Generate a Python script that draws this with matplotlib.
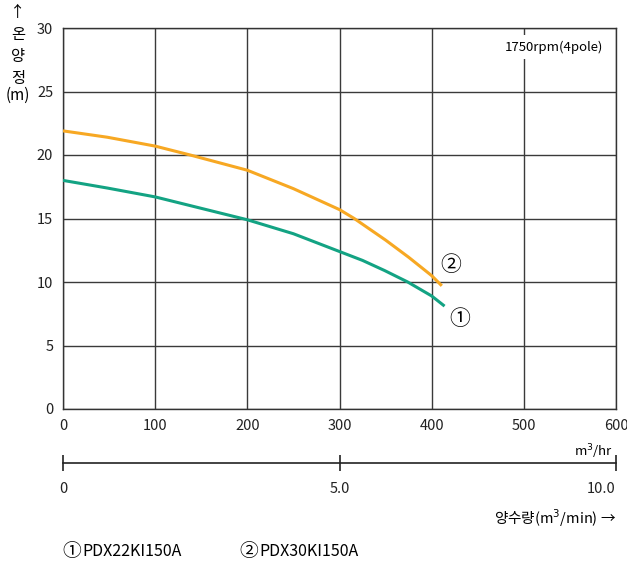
import numpy as np
import matplotlib.pyplot as plt

plt.rcParams['font.family'] = ['Noto Sans CJK KR', 'DejaVu Sans']

# Head curves (flow m3/hr, head m)
q_pdx22 = [0, 48, 100, 150, 200, 250, 300, 325, 349, 374, 400, 414]
h_pdx22 = [18.0, 17.4, 16.7, 15.8, 14.9, 13.8, 12.4, 11.7, 10.9, 10.0, 8.9, 8.1]
q_pdx30 = [0, 48, 100, 138, 200, 250, 300, 316, 350, 375, 400, 411]
h_pdx30 = [21.9, 21.4, 20.7, 20.0, 18.8, 17.35, 15.7, 15.0, 13.3, 11.95, 10.5, 9.7]

x_ticks = [0, 100, 200, 300, 400, 500, 600]
y_ticks = [0, 5, 10, 15, 20, 25, 30]
flow_ticks = [0, 5.0, 10.0]
flow_labels = ['0', '5.0', '10.0']

green = '#13a383'
orange = '#f7a823'
grid_c = '#3a3a3a'

W, H = 627, 565
fig = plt.figure(figsize=(W / 100, H / 100), dpi=100)

def box(l, t, r, b):
    return [l / W, 1 - b / H, (r - l) / W, (b - t) / H]

ax = fig.add_axes(box(63, 28, 616, 409))
ax.plot(q_pdx22, h_pdx22, color=green, lw=2.2, solid_capstyle='butt',
        solid_joinstyle='round', zorder=3)
ax.plot(q_pdx30, h_pdx30, color=orange, lw=2.2, solid_capstyle='butt',
        solid_joinstyle='round', zorder=3)
ax.set_xlim(0, 600)
ax.set_ylim(0, 30)
ax.set_xticks(x_ticks)
ax.set_yticks(y_ticks)
ax.tick_params(length=0, labelsize=10.5, pad=7, colors='#222222')
ax.grid(True, color=grid_c, lw=1.0)
for s in ax.spines.values():
    s.set_color('#333333')
    s.set_linewidth(1.0)

ax.text(586, 28.5, '1750rpm(4pole)', fontsize=9.5, ha='right', va='center',
        bbox=dict(facecolor='white', edgecolor='none', pad=4), zorder=4)
ax.text(421, 11.3, '②', fontsize=15, ha='center', va='center', zorder=4)
ax.text(430, 7.1, '①', fontsize=15, ha='center', va='center', zorder=4)

# secondary flow scale (m3/min)
ax2 = fig.add_axes(box(63, 440, 616, 463))
ax2.set_xlim(0, 10)
ax2.set_ylim(0, 1)
for k in ['top', 'left', 'right']:
    ax2.spines[k].set_visible(False)
ax2.spines['bottom'].set_color('#222222')
ax2.spines['bottom'].set_linewidth(1.2)
ax2.set_yticks([])
ax2.set_xticks(flow_ticks)
ax2.set_xticklabels(flow_labels)
ax2.tick_params(axis='x', direction='inout', length=12, width=1.2,
                labelsize=10.5, pad=8, colors='#222222')
ax2.patch.set_alpha(0)
lbls = ax2.get_xticklabels()
lbls[-1].set_ha('right')
ax2.text(9.95, 0.08, 'm$^3$/hr', fontsize=9.5, ha='right', va='bottom')

fig.text(616 / W, 1 - 518 / H, '양수량(m$^3$/min) →', fontsize=10.5,
         ha='right', va='center')

# model legend
for cx, mark, name in [(62, '①', 'PDX22KI150A'), (239, '②', 'PDX30KI150A')]:
    fig.text(cx / W, 1 - 552 / H, mark, fontsize=13.5, ha='left', va='center')
    fig.text((cx + 20) / W, 1 - 552 / H, name, fontsize=11.5, ha='left', va='center')

# vertical axis title
for txt, y in [('↑', 12), ('온', 35), ('양', 57), ('정', 78), ('(m)', 95)]:
    fig.text(18 / W, 1 - y / H, txt, fontsize=11, ha='center', va='center')

fig.savefig('out.png', dpi=100)
